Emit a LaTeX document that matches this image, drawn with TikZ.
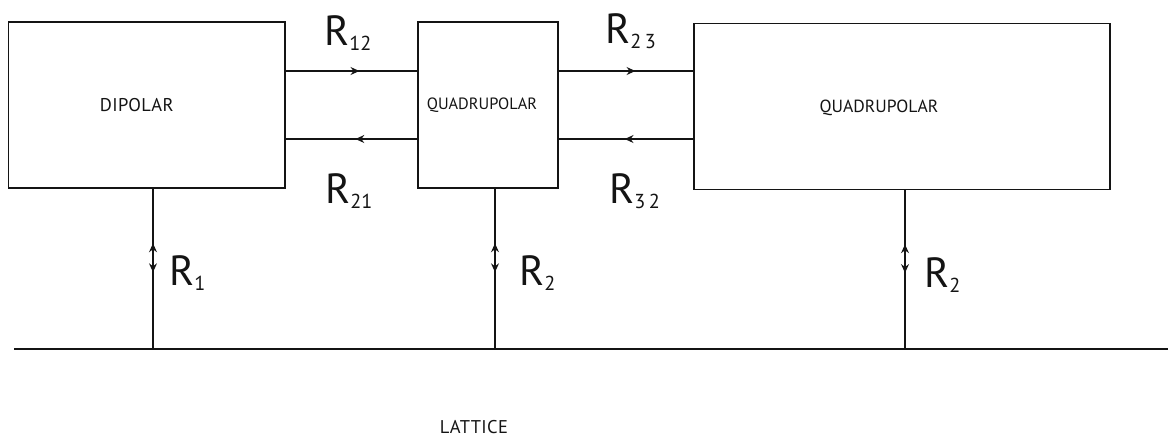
\documentclass[tikz,border=0pt]{standalone}
\usepackage{fontspec}
\setmainfont{PT Sans}
\usepackage{tikz}
\usetikzlibrary{arrows.meta, positioning, calc, decorations.markings}
\definecolor{inkline}{RGB}{20,20,20}
\tikzset{
  unitbox/.style={rectangle, draw=inkline, line width=1.1pt, inner sep=0pt,
    minimum height=3.32cm},
  boxtext/.style={font=\fontsize{10.5}{11}\selectfont\addfontfeatures{LetterSpace=2},
    text=inkline, inner sep=0pt},
  link/.style={line width=0.8pt, color=inkline},
  midarrow/.style={postaction={decorate, decoration={markings,
    mark=at position #1 with {\arrow{Stealth[length=5pt,width=4.5pt]}}}}},
  twoway/.style={postaction={decorate, decoration={markings,
    mark=at position 0.34 with {\arrowreversed{Stealth[length=5pt,width=4.5pt]}},
    mark=at position 0.52 with {\arrow{Stealth[length=5pt,width=4.5pt]}}}}},
  ratelabel/.style={anchor=base west, inner sep=0pt, text=inkline}
}
\newcommand{\ratesym}[1]{{\fontsize{24}{24}\selectfont R}\raisebox{-3pt}{\fontsize{11.5}{12}\selectfont #1}}

\begin{document}
\begin{tikzpicture}[x=0.02cm, y=-0.02cm]
  \useasboundingbox (0,0) rectangle (1170,437);
  \node[unitbox, minimum width=5.53cm, label={[boxtext, xshift=-0.2cm]center:DIPOLAR}] (dipolar) at (146.75,105) {};
  \node[unitbox, minimum width=2.8cm, label={[boxtext, font=\fontsize{9.3}{10}\selectfont, xshift=-0.12cm]center:QUADRUPOLAR}] (quadA) at (488,105) {};
  \node[unitbox, minimum width=8.32cm, label={[boxtext, font=\fontsize{10}{11}\selectfont, xshift=-0.46cm, yshift=-0.03cm]center:QUADRUPOLAR}] (quadB) at (902,106.5) {};

  \coordinate (hi) at (0,71);
  \coordinate (lo) at (0,139);
  \coordinate (gl) at (14,349);
  \coordinate (gr) at (1168,349);
  \coordinate (g1) at (153,349);
  \coordinate (g2) at (495,349);
  \coordinate (g3) at (905,349);

  \draw[link, midarrow=0.56] (dipolar.east |- hi) -- (quadA.west |- hi);
  \draw[link, midarrow=0.47] (quadA.west |- lo) -- (dipolar.east |- lo);
  \draw[link, midarrow=0.57] (quadA.east |- hi) -- (quadB.west |- hi);
  \draw[link, midarrow=0.51] (quadB.west |- lo) -- (quadA.east |- lo);

  \draw[link, twoway] (dipolar.south -| g1) -- (g1);
  \draw[link, twoway] (quadA.south -| g2) -- (g2);
  \draw[link, twoway] (quadB.south -| g3) -- (g3);
  \draw[link, line width=1pt] (gl) -- (gr);

  \node[ratelabel] (r12) at (324,45) {\ratesym{12}};
  \node[ratelabel] (r21) at (325,203) {\ratesym{21}};
  \node[ratelabel] (r23) at (605,43) {\ratesym{2\,3}};
  \node[ratelabel] (r32) at (609,203) {\ratesym{3\,2}};
  \node[ratelabel] (r1) at (169,285) {\ratesym{1}};
  \node[ratelabel] (r2a) at (519,285) {\ratesym{2}};
  \node[ratelabel] (r2b) at (924,287) {\ratesym{2}};

  \node[boxtext] (lattice) at (474,427) {LATTICE};
\end{tikzpicture}
\end{document}
